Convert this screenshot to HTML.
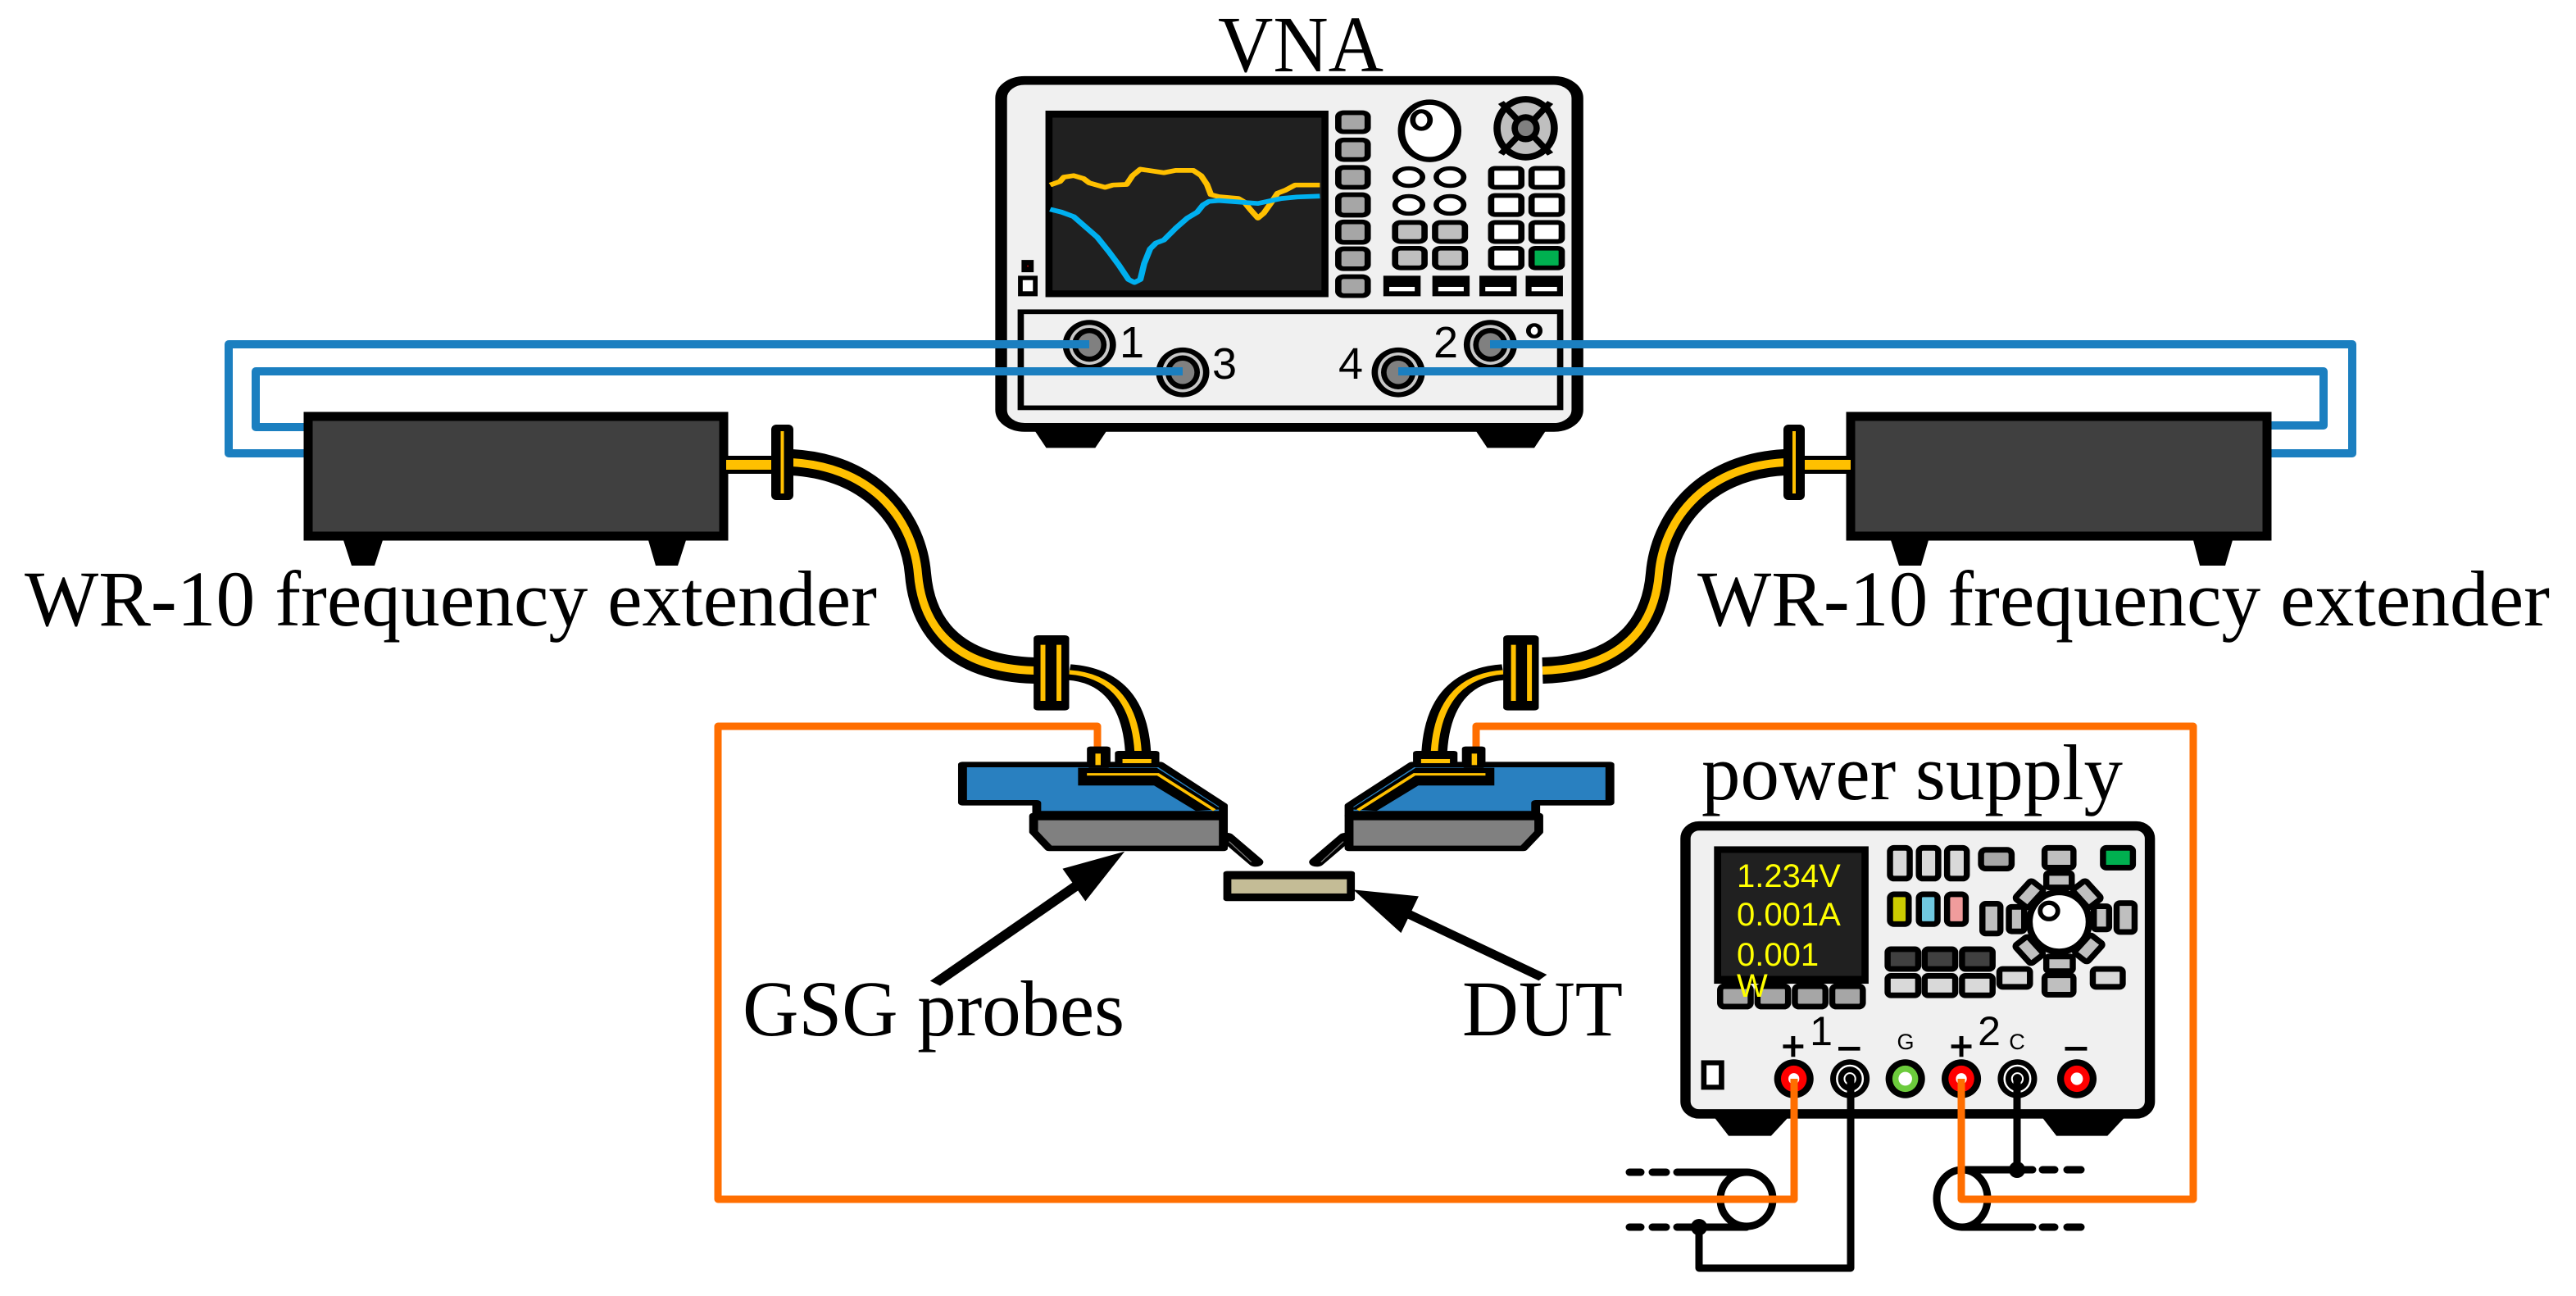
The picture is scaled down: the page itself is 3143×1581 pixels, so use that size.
<!DOCTYPE html>
<html><head><meta charset="utf-8"><style>
html,body{margin:0;padding:0;background:#fff;}
svg{display:block;}
text{font-family:"Liberation Serif",serif;}
.s{font-family:"Liberation Sans",sans-serif;}
</style></head><body>
<svg xmlns="http://www.w3.org/2000/svg" xmlns:xlink="http://www.w3.org/1999/xlink" width="3143" height="1581" viewBox="0 0 3143 1581">
<rect width="3143" height="1581" fill="#fff"/>

<!-- ===== VNA (zoom1 coords) ===== -->
<g transform="translate(1200,0) scale(0.4783,0.3571)">
  <polygon points="115,1440 330,1440 285,1530 160,1530" fill="#000"/>
  <polygon points="1240,1440 1450,1440 1405,1530 1285,1530" fill="#000"/>
  <rect x="45" y="275" width="1470" height="1185" rx="60" fill="#f0f0f0" stroke="#000" stroke-width="30"/>
  <rect x="158" y="378" width="722" height="637" fill="#000"/>
  <rect x="176" y="402" width="686" height="590" fill="#202020"/>
  <polyline fill="none" stroke="#FFC000" stroke-width="16" stroke-linejoin="round" points="170,632 195,620 205,605 230,600 255,610 270,625 310,640 330,632 365,630 380,600 400,578 460,590 490,582 535,582 555,600 570,630 580,665 600,672 650,678 665,690 680,715 700,745 715,728 735,690 750,660 770,650 795,632 858,632"/>
  <polyline fill="none" stroke="#00B0F0" stroke-width="16" stroke-linejoin="round" points="170,715 200,725 230,740 260,775 290,810 320,860 345,905 370,955 385,965 400,955 410,900 425,850 440,830 460,820 490,780 520,745 545,725 560,700 575,688 600,685 650,690 700,695 735,685 760,678 800,673 858,670"/>
  <g fill="#a6a6a6" stroke="#000" stroke-width="16">
    <rect x="905" y="385" width="75" height="65" rx="14"/>
    <rect x="905" y="478" width="75" height="67" rx="14"/>
    <rect x="905" y="572" width="75" height="68" rx="14"/>
    <rect x="905" y="665" width="75" height="70" rx="14"/>
    <rect x="905" y="758" width="75" height="70" rx="14"/>
    <rect x="905" y="850" width="75" height="68" rx="14"/>
    <rect x="905" y="945" width="75" height="65" rx="14"/>
  </g>
  <ellipse cx="1138" cy="447" rx="72" ry="98" fill="#fff" stroke="#000" stroke-width="18"/>
  <ellipse cx="1117" cy="410" rx="22" ry="30" fill="#fff" stroke="#000" stroke-width="14"/>
  <ellipse cx="1383" cy="438" rx="82" ry="110" fill="#000"/>
  <ellipse cx="1383" cy="438" rx="64" ry="88" fill="#bfbfbf"/>
  <line x1="1320" y1="350" x2="1446" y2="526" stroke="#000" stroke-width="18"/>
  <line x1="1446" y1="350" x2="1320" y2="526" stroke="#000" stroke-width="18"/>
  <ellipse cx="1383" cy="438" rx="36" ry="48" fill="#000"/>
  <ellipse cx="1383" cy="438" rx="20" ry="27" fill="#808080"/>
  <g fill="#fff" stroke="#000" stroke-width="14">
    <ellipse cx="1085" cy="605" rx="35" ry="30"/><ellipse cx="1190" cy="605" rx="35" ry="30"/>
    <ellipse cx="1085" cy="700" rx="35" ry="30"/><ellipse cx="1190" cy="700" rx="35" ry="30"/>
  </g>
  <g fill="#bfbfbf" stroke="#000" stroke-width="16">
    <rect x="1050" y="760" width="75" height="65" rx="14"/><rect x="1152" y="760" width="76" height="65" rx="14"/>
    <rect x="1050" y="848" width="75" height="67" rx="14"/><rect x="1152" y="848" width="76" height="67" rx="14"/>
  </g>
  <g fill="#fff" stroke="#000" stroke-width="16">
    <rect x="1295" y="575" width="77" height="65" rx="10"/><rect x="1398" y="575" width="77" height="65" rx="10"/>
    <rect x="1295" y="668" width="77" height="65" rx="10"/><rect x="1398" y="668" width="77" height="65" rx="10"/>
    <rect x="1295" y="760" width="77" height="65" rx="10"/><rect x="1398" y="760" width="77" height="65" rx="10"/>
    <rect x="1295" y="848" width="77" height="67" rx="10"/><rect x="1398" y="848" width="77" height="67" rx="10" fill="#00B050"/>
  </g>
  <g fill="#000">
    <rect x="1020" y="942" width="95" height="70"/><rect x="1145" y="942" width="95" height="70"/>
    <rect x="1265" y="942" width="95" height="70"/><rect x="1383" y="942" width="95" height="70"/>
  </g>
  <g fill="#fff">
    <rect x="1035" y="980" width="65" height="15"/><rect x="1160" y="980" width="65" height="15"/>
    <rect x="1280" y="980" width="65" height="15"/><rect x="1398" y="980" width="65" height="15"/>
  </g>
  <rect x="97" y="888" width="31" height="42" fill="#000"/><rect x="111" y="907" width="4" height="4" fill="#c00"/>
  <rect x="88" y="942" width="50" height="70" fill="#000"/><rect x="100" y="957" width="26" height="38" fill="#fff"/>
  <rect x="95" y="1065" width="1376" height="328" fill="#f0f0f0" stroke="#000" stroke-width="16"/>
  <g>
    <ellipse cx="270" cy="1178" rx="68" ry="85" fill="#000"/><ellipse cx="270" cy="1178" rx="52" ry="68" fill="#c8c8c8"/><ellipse cx="270" cy="1178" rx="44" ry="58" fill="#000"/><ellipse cx="270" cy="1178" rx="30" ry="40" fill="#808080"/>
    <ellipse cx="508" cy="1272" rx="68" ry="85" fill="#000"/><ellipse cx="508" cy="1272" rx="52" ry="68" fill="#c8c8c8"/><ellipse cx="508" cy="1272" rx="44" ry="58" fill="#000"/><ellipse cx="508" cy="1272" rx="30" ry="40" fill="#808080"/>
    <ellipse cx="1058" cy="1272" rx="68" ry="85" fill="#000"/><ellipse cx="1058" cy="1272" rx="52" ry="68" fill="#c8c8c8"/><ellipse cx="1058" cy="1272" rx="44" ry="58" fill="#000"/><ellipse cx="1058" cy="1272" rx="30" ry="40" fill="#808080"/>
    <ellipse cx="1293" cy="1178" rx="68" ry="85" fill="#000"/><ellipse cx="1293" cy="1178" rx="52" ry="68" fill="#c8c8c8"/><ellipse cx="1293" cy="1178" rx="44" ry="58" fill="#000"/><ellipse cx="1293" cy="1178" rx="30" ry="40" fill="#808080"/>
  </g>
  <ellipse cx="1405" cy="1130" rx="15" ry="20" fill="#fff" stroke="#000" stroke-width="12"/>
</g>
<text x="1486" y="87" font-size="97" textLength="202" lengthAdjust="spacingAndGlyphs">VNA</text>
<g class="s" font-size="54" text-anchor="middle" fill="#000">
  <text class="s" x="1381" y="436">1</text>
  <text class="s" x="1494" y="462">3</text>
  <text class="s" x="1648" y="462">4</text>
  <text class="s" x="1764" y="436">2</text>
</g>

<!-- ===== Blue cables ===== -->
<g fill="none" stroke="#1B7FC0" stroke-width="10" stroke-linejoin="round">
  <polyline points="1329,420 279,420 279,553 371,553"/>
  <polyline points="1443,453 312,453 312,521 371,521"/>
  <polyline points="1818,420 2870,420 2870,553 2771,553"/>
  <polyline points="1706,453 2835,453 2835,519 2771,519"/>
</g>

<!-- ===== Extenders ===== -->
<polygon points="419,659 467,659 457,690 429,690" fill="#000"/>
<polygon points="791,659 837,659 827,690 800,690" fill="#000"/>
<rect x="376" y="508" width="507" height="146" fill="#404040" stroke="#000" stroke-width="11"/>
<polygon points="2307,659 2353,659 2344,690 2317,690" fill="#000"/>
<polygon points="2676,659 2724,659 2715,690 2684,690" fill="#000"/>
<rect x="2258" y="508" width="508" height="146" fill="#404040" stroke="#000" stroke-width="11"/>

<!-- waveguide stubs/flanges -->
<rect x="886" y="556" width="58" height="22" fill="#000"/><rect x="886" y="561" width="58" height="12" fill="#FFC000"/>
<rect x="2200" y="556" width="58" height="22" fill="#000"/><rect x="2200" y="561" width="58" height="12" fill="#FFC000"/>
<path d="M 966 564 C 1070 570, 1115 640, 1120 700 C 1125 760, 1160 815, 1262 818" fill="none" stroke="#000" stroke-width="32"/>
<path d="M 966 564 C 1070 570, 1115 640, 1120 700 C 1125 760, 1160 815, 1262 818" fill="none" stroke="#FFC000" stroke-width="10"/>
<path d="M 2177 564 C 2074 570, 2029 640, 2024 700 C 2019 760, 1984 815, 1882 818" fill="none" stroke="#000" stroke-width="32"/>
<path d="M 2177 564 C 2074 570, 2029 640, 2024 700 C 2019 760, 1984 815, 1882 818" fill="none" stroke="#FFC000" stroke-width="10"/>
<rect x="941" y="518" width="27" height="92" rx="6" fill="#000"/><line x1="954.5" y1="526" x2="954.5" y2="602" stroke="#FFC000" stroke-width="4"/>
<rect x="2176" y="518" width="26" height="92" rx="6" fill="#000"/><line x1="2189" y1="526" x2="2189" y2="602" stroke="#FFC000" stroke-width="4"/>

<!-- ===== Orange loop ===== -->
<g fill="none" stroke="#FF6E00" stroke-width="9" stroke-linejoin="round">
  <polyline points="1339,918 1339,886 876,886 876,1463 2189,1463 2189,1316"/>
  <polyline points="1801,918 1801,886 2676,886 2676,1463 2393,1463 2393,1316"/>
</g>

<!-- ===== Probes (zoom3 coords) ===== -->
<g transform="translate(1150,740) scale(0.5421,0.3333)">
  <g id="probeL">
    <path d="M 285 240 C 370 250, 432 330, 440 530" fill="none" stroke="#000" stroke-width="58"/>
    <path d="M 285 240 C 370 250, 432 330, 440 530" fill="none" stroke="#FFC000" stroke-width="16"/>
    <rect x="205" y="105" width="80" height="275" rx="10" fill="#000"/>
    <line x1="226" y1="140" x2="226" y2="345" stroke="#FFC000" stroke-width="11"/>
    <line x1="262" y1="140" x2="262" y2="345" stroke="#FFC000" stroke-width="11"/>
    <line x1="640" y1="845" x2="705" y2="935" stroke="#000" stroke-width="34" stroke-linecap="round"/>
    <line x1="645" y1="860" x2="695" y2="935" stroke="#777" stroke-width="3"/>
    <polygon points="205,765 632,765 632,885 240,885 205,825" fill="#808080" stroke="#000" stroke-width="20" stroke-linejoin="round"/>
    <polygon points="45,578 490,578 632,728 632,765 212,765 212,718 45,718" fill="#2980C0" stroke="#000" stroke-width="20" stroke-linejoin="round"/>
    <line x1="205" y1="765" x2="632" y2="765" stroke="#000" stroke-width="34"/>
    <polygon points="305,590 482,590 628,742 570,748 476,655 305,655" fill="#000"/>
    <polyline points="325,614 485,614 612,745" fill="none" stroke="#FFC000" stroke-width="9"/>
    <rect x="325" y="512" width="53" height="78" rx="8" fill="#000"/>
    <line x1="350" y1="538" x2="350" y2="580" stroke="#FFC000" stroke-width="12"/>
    <rect x="388" y="528" width="100" height="57" rx="8" fill="#000"/>
    <rect x="405" y="558" width="65" height="15" fill="#FFC000"/>
  </g>
  <use xlink:href="#probeL" href="#probeL" transform="translate(1547,0) scale(-1,1)"/>
  <rect x="632" y="968" width="296" height="110" rx="8" fill="#000"/>
  <rect x="650" y="998" width="260" height="52" fill="#C4BC96"/>
</g>

<!-- ===== Arrows (zoom6 coords) ===== -->
<g transform="translate(850,850) scale(0.7972,0.4662)">
  <line x1="365" y1="750" x2="585" y2="490" stroke="#000" stroke-width="20"/>
  <polygon points="655,405 560,450 595,535" fill="#000"/>
  <line x1="1295" y1="735" x2="1085" y2="565" stroke="#000" stroke-width="20"/>
  <polygon points="1005,505 1105,522 1078,618" fill="#000"/>
</g>

<!-- ===== Power supply (zoom2 coords) ===== -->
<g transform="translate(2020,980) scale(0.4145,0.3827)">
  <polygon points="165,990 400,990 340,1060 215,1060" fill="#000"/>
  <polygon points="1130,990 1390,990 1330,1060 1180,1060" fill="#000"/>
  <rect x="88" y="72" width="1367" height="918" rx="40" fill="#f0f0f0" stroke="#000" stroke-width="30"/>
  <rect x="172" y="137" width="455" height="438" fill="#000"/>
  <rect x="193" y="158" width="413" height="392" fill="#202020"/>
  <g stroke="#000" stroke-width="18">
    <rect x="690" y="142" width="58" height="98" rx="12" fill="#d9d9d9"/>
    <rect x="775" y="142" width="57" height="98" rx="12" fill="#d9d9d9"/>
    <rect x="858" y="142" width="58" height="98" rx="12" fill="#d9d9d9"/>
    <rect x="690" y="290" width="55" height="95" rx="12" fill="#CCCC00"/>
    <rect x="775" y="290" width="55" height="95" rx="12" fill="#70C8E0"/>
    <rect x="858" y="290" width="55" height="95" rx="12" fill="#F09C9C"/>
    <rect x="958" y="148" width="90" height="60" rx="14" fill="#a6a6a6"/>
    <rect x="1145" y="142" width="85" height="63" rx="10" fill="#bfbfbf"/>
    <rect x="1317" y="142" width="88" height="63" rx="10" fill="#00B050"/>
    <rect x="1150" y="222" width="75" height="46" rx="8" fill="#bfbfbf"/>
    <rect x="1150" y="488" width="78" height="47" rx="8" fill="#bfbfbf"/>
    <rect x="1040" y="330" width="45" height="78" rx="8" fill="#bfbfbf"/>
    <rect x="1290" y="328" width="45" height="74" rx="8" fill="#bfbfbf"/>
    <rect x="962" y="320" width="53" height="95" rx="10" fill="#bfbfbf"/>
    <rect x="1357" y="318" width="53" height="92" rx="10" fill="#bfbfbf"/>
    <rect x="1075" y="252" width="50" height="75" rx="8" fill="#bfbfbf" transform="rotate(40 1100 290)"/>
    <rect x="1245" y="252" width="50" height="75" rx="8" fill="#bfbfbf" transform="rotate(-40 1270 290)"/>
    <rect x="1075" y="430" width="50" height="75" rx="8" fill="#bfbfbf" transform="rotate(-40 1100 468)"/>
    <rect x="1250" y="425" width="50" height="75" rx="8" fill="#bfbfbf" transform="rotate(40 1275 462)"/>
    <rect x="683" y="465" width="90" height="63" rx="10" fill="#404040"/>
    <rect x="792" y="465" width="90" height="63" rx="10" fill="#404040"/>
    <rect x="902" y="465" width="90" height="63" rx="10" fill="#404040"/>
    <rect x="683" y="550" width="90" height="62" rx="10" fill="#d9d9d9"/>
    <rect x="792" y="550" width="90" height="62" rx="10" fill="#d9d9d9"/>
    <rect x="902" y="550" width="90" height="62" rx="10" fill="#d9d9d9"/>
    <rect x="1012" y="528" width="90" height="57" rx="10" fill="#d9d9d9"/>
    <rect x="1145" y="548" width="85" height="62" rx="10" fill="#bfbfbf"/>
    <rect x="1287" y="528" width="88" height="57" rx="10" fill="#d9d9d9"/>
    <rect x="190" y="583" width="90" height="65" rx="12" fill="#a6a6a6"/>
    <rect x="300" y="583" width="90" height="65" rx="12" fill="#a6a6a6"/>
    <rect x="410" y="583" width="90" height="65" rx="12" fill="#a6a6a6"/>
    <rect x="520" y="583" width="90" height="65" rx="12" fill="#a6a6a6"/>
  </g>
  <ellipse cx="1188" cy="378" rx="88" ry="95" fill="#fff" stroke="#000" stroke-width="20"/>
  <ellipse cx="1158" cy="343" rx="26" ry="26" fill="#fff" stroke="#000" stroke-width="14"/>
  <rect x="142" y="827" width="52" height="78" fill="#fff" stroke="#000" stroke-width="16"/>
  <!-- terminals -->
  <g>
    <ellipse cx="407" cy="878" rx="58" ry="62" fill="#000"/><ellipse cx="407" cy="878" rx="38" ry="42" fill="#f00"/><ellipse cx="407" cy="878" rx="16" ry="18" fill="#fff"/>
    <ellipse cx="572" cy="878" rx="58" ry="62" fill="#000"/><ellipse cx="572" cy="878" rx="38" ry="42" fill="none" stroke="#fff" stroke-width="6"/><ellipse cx="572" cy="878" rx="16" ry="18" fill="none" stroke="#fff" stroke-width="5"/>
    <ellipse cx="735" cy="878" rx="58" ry="62" fill="#000"/><ellipse cx="735" cy="878" rx="38" ry="42" fill="#6CCB3C"/><ellipse cx="735" cy="878" rx="20" ry="22" fill="#fff"/>
    <ellipse cx="900" cy="878" rx="58" ry="62" fill="#000"/><ellipse cx="900" cy="878" rx="38" ry="42" fill="#f00"/><ellipse cx="900" cy="878" rx="16" ry="18" fill="#fff"/>
    <ellipse cx="1065" cy="878" rx="58" ry="62" fill="#000"/><ellipse cx="1065" cy="878" rx="38" ry="42" fill="none" stroke="#fff" stroke-width="6"/><ellipse cx="1065" cy="878" rx="16" ry="18" fill="none" stroke="#fff" stroke-width="5"/>
    <ellipse cx="1240" cy="878" rx="58" ry="62" fill="#000"/><ellipse cx="1240" cy="878" rx="38" ry="42" fill="#f00"/><ellipse cx="1240" cy="878" rx="18" ry="20" fill="#fff"/>
  </g>
  <g stroke="#000" stroke-width="12">
    <line x1="375" y1="775" x2="435" y2="775"/><line x1="405" y1="742" x2="405" y2="808"/>
    <line x1="538" y1="782" x2="602" y2="782"/>
    <line x1="870" y1="775" x2="930" y2="775"/><line x1="900" y1="742" x2="900" y2="808"/>
    <line x1="1205" y1="782" x2="1270" y2="782"/>
  </g>
</g>
<g fill="#FFFF00" class="s" font-size="40">
  <text class="s" x="2119" y="1082">1.234V</text>
  <text class="s" x="2119" y="1129">0.001A</text>
  <text class="s" x="2119" y="1178">0.001</text>
  <text class="s" x="2119" y="1216">W</text>
</g>
<g text-anchor="middle" fill="#000">
  <text class="s" x="2222" y="1275" font-size="50">1</text>
  <text class="s" x="2325" y="1280" font-size="27">G</text>
  <text class="s" x="2427" y="1275" font-size="50">2</text>
  <text class="s" x="2461" y="1280" font-size="27">C</text>
</g>

<!-- coax + wiring -->
<g stroke="#000" stroke-width="9" fill="none" stroke-linecap="round">
  <line x1="1988" y1="1430" x2="2002" y2="1430"/><line x1="2016" y1="1430" x2="2033" y2="1430"/><line x1="2046" y1="1430" x2="2131" y2="1430"/>
  <line x1="1988" y1="1497" x2="2002" y2="1497"/><line x1="2016" y1="1497" x2="2033" y2="1497"/><line x1="2046" y1="1497" x2="2131" y2="1497"/>
  <line x1="2394" y1="1427" x2="2480" y2="1427"/><line x1="2492" y1="1427" x2="2507" y2="1427"/><line x1="2522" y1="1427" x2="2539" y2="1427"/>
  <line x1="2394" y1="1497" x2="2480" y2="1497"/><line x1="2492" y1="1497" x2="2507" y2="1497"/><line x1="2522" y1="1497" x2="2539" y2="1497"/>
  <polyline points="2073,1497 2073,1547 2258,1547 2258,1318" stroke-linejoin="round"/>
  <line x1="2461" y1="1318" x2="2461" y2="1427"/>
</g>
<ellipse cx="2131" cy="1463" rx="32" ry="33" fill="#fff" stroke="#000" stroke-width="9"/>
<ellipse cx="2394" cy="1462" rx="31" ry="35" fill="#fff" stroke="#000" stroke-width="9"/>
<circle cx="2073" cy="1497" r="10" fill="#000"/>
<circle cx="2461" cy="1427" r="10" fill="#000"/>
<g fill="none" stroke="#FF6E00" stroke-width="9" stroke-linejoin="round">
  <polyline points="2092,1463 2189,1463 2189,1316"/>
  <polyline points="2393,1316 2393,1463 2440,1463"/>
</g>

<!-- ===== Labels ===== -->
<text x="30" y="763" font-size="96" textLength="1040" lengthAdjust="spacingAndGlyphs">WR-10 frequency extender</text>
<text x="2071" y="763" font-size="96" textLength="1040" lengthAdjust="spacingAndGlyphs">WR-10 frequency extender</text>
<text x="906" y="1263" font-size="96" textLength="466" lengthAdjust="spacingAndGlyphs">GSG probes</text>
<text x="1784" y="1263" font-size="96" textLength="196" lengthAdjust="spacingAndGlyphs">DUT</text>
<text x="2076" y="975" font-size="96" textLength="514" lengthAdjust="spacingAndGlyphs">power supply</text>
</svg>
</body></html>
